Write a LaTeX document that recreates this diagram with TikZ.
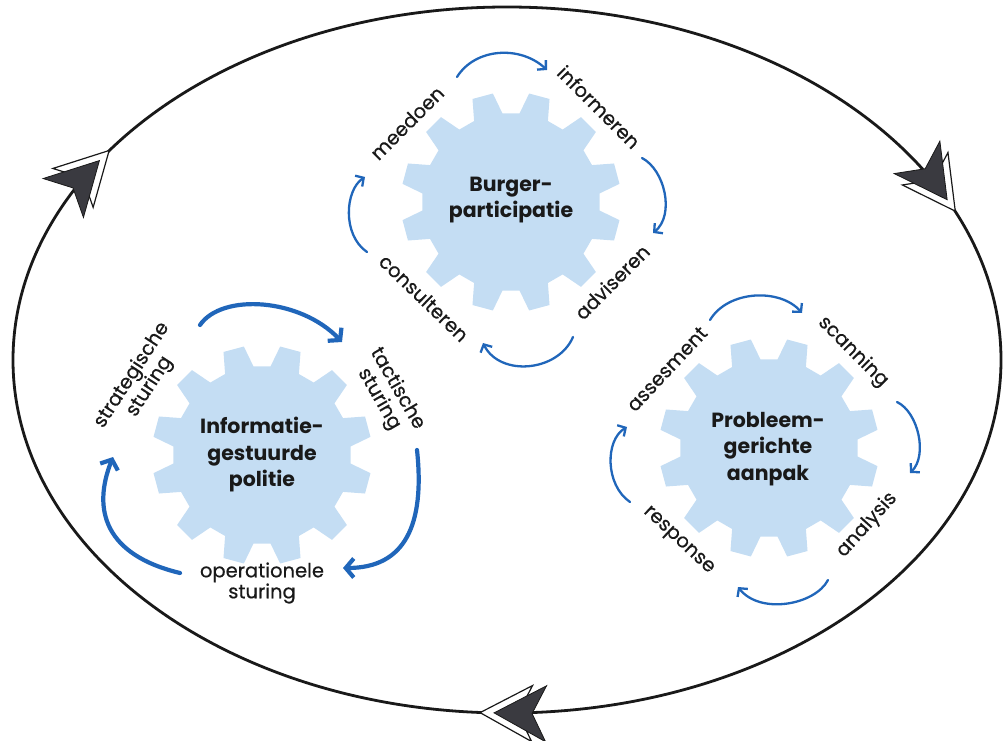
\documentclass[tikz,border=0pt]{standalone}
\usepackage{fontspec}
\setmainfont{Poppins}
\newfontfamily\lblfont{Poppins}[FakeBold=0.5]
\usetikzlibrary{arrows.meta}
\definecolor{gearblue}{RGB}{196,221,243}
\definecolor{arrowblue}{RGB}{32,102,186}
\definecolor{darkarrow}{RGB}{58,58,64}
\definecolor{ink}{RGB}{25,25,25}
\tikzset{
  gear/.pic={
    \fill[gearblue] (5.5:89) \foreach \k in {0,...,11}{ -- ({30*\k+5.5}:89) -- ({30*\k+9.5}:110) -- ({30*\k+20.5}:110) -- ({30*\k+24.5}:89)} -- cycle;
  },
  bigarrow/.pic={
    \filldraw[fill=white, draw=ink, line width=1.2pt, line join=miter] (14,0) -- (-38,28) -- (-24,0) -- (-38,-28) -- cycle;
    \filldraw[fill=darkarrow, draw=ink, line width=0.8pt, line join=miter] (0,0) -- (-52,28) -- (-38,0) -- (-52,-28) -- cycle;
  }
}
\begin{document}
\begin{tikzpicture}[x=1pt,y=1pt,
  lbl/.style={font=\lblfont\fontsize{19.5}{21}\selectfont, text=ink, inner sep=0pt, align=center},
  ttl/.style={font=\bfseries\fontsize{20.5}{26.5}\selectfont, text=ink, align=center, inner sep=0pt},
  thinarc/.style={draw=arrowblue, line width=2.3pt, line cap=round, -{Straight Barb[length=6pt,width=13pt]}},
  thickarc/.style={draw=arrowblue, line width=4.2pt, line cap=round, -{Straight Barb[length=8pt,width=19pt]}},
]
\useasboundingbox (0,0) rectangle (1003,740);

% outer cycle
\draw[ink, line width=2.8pt] (507,380) ellipse [x radius=494, y radius=353];
\coordinate (e1) at ({507+494*cos(145.6)},{380+353*sin(145.6)});
\coordinate (e2) at ({507+494*cos(27)},{380+353*sin(27)});
\coordinate (e3) at ({507+494*cos(-91.5)},{380+353*sin(-91.5)});
\pic[rotate=46] at (e1) {bigarrow};
\pic[rotate=-54.6] at (e2) {bigarrow};
\pic[rotate=179] at (e3) {bigarrow};

% gears
\pic at (511,538) {gear};
\pic at (262,285) {gear};
\pic at (769,292) {gear};

\node[ttl] (burger) at (511,540) {Burger-\\participatie};
\node[ttl] (igp) at (262,285) {Informatie-\\gestuurde\\politie};
\node[ttl] (pga) at (768,291) {Probleem-\\gerichte\\aanpak};

% Burgerparticipatie labels
\node[lbl, rotate=45] (meedoen) at (407,617) {meedoen};
\node[lbl, rotate=-45] (informeren) at (599,633) {informeren};
\node[lbl, rotate=45] (adviseren) at (612,458) {adviseren};
\node[lbl, rotate=-44] (consulteren) at (424,442) {consulteren};

\coordinate (b1s) at (457,663); \coordinate (b1e) at (547,670);
\coordinate (b2s) at (642,582); \coordinate (b2e) at (653,507);
\coordinate (b3s) at (573,403); \coordinate (b3e) at (483,397);
\coordinate (b4s) at (367,488); \coordinate (b4e) at (365,563);
\draw[thinarc] (b1s) .. controls (475,692) and (520,695) .. (b1e);
\draw[thinarc] (b2s) .. controls (665,570) and (675,525) .. (b2e);
\draw[thinarc] (b3s) .. controls (558,368) and (500,363) .. (b3e);
\draw[thinarc] (b4s) .. controls (342,505) and (345,550) .. (b4e);

% Informatiegestuurde politie labels
\node[lbl, rotate=57] (strat) at (141,359) {strategische\\sturing};
\node[lbl, rotate=-60] (tact) at (388,346) {tactische\\sturing};
\node[lbl] (oper) at (262,157) {operationele\\sturing};

\coordinate (i1s) at (200,415); \coordinate (i1e) at (342,398);
\coordinate (i2s) at (417,290); \coordinate (i2e) at (343,172);
\coordinate (i3s) at (180,167); \coordinate (i3e) at (113,283);
\draw[thickarc] (i1s) .. controls (222,447) and (300,442) .. (i1e);
\draw[thickarc] (i2s) .. controls (425,215) and (405,172) .. (i2e);
\draw[thickarc] (i3s) .. controls (105,185) and (92,230) .. (i3e);

% Probleemgerichte aanpak labels
\node[lbl, rotate=47] (assesment) at (667,371) {assesment};
\node[lbl, rotate=-45] (scanning) at (853,388) {scanning};
\node[lbl, rotate=48] (analysis) at (867,215) {analysis};
\node[lbl, rotate=-43] (response) at (678,199) {response};

\coordinate (p1s) at (710,420); \coordinate (p1e) at (802,427);
\coordinate (p2s) at (897,338); \coordinate (p2e) at (910,267);
\coordinate (p3s) at (828,160); \coordinate (p3e) at (738,153);
\coordinate (p4s) at (630,238); \coordinate (p4e) at (627,313);
\draw[thinarc] (p1s) .. controls (728,450) and (780,452) .. (p1e);
\draw[thinarc] (p2s) .. controls (918,328) and (928,285) .. (p2e);
\draw[thinarc] (p3s) .. controls (815,135) and (760,125) .. (p3e);
\draw[thinarc] (p4s) .. controls (605,255) and (605,300) .. (p4e);
\end{tikzpicture}
\end{document}
